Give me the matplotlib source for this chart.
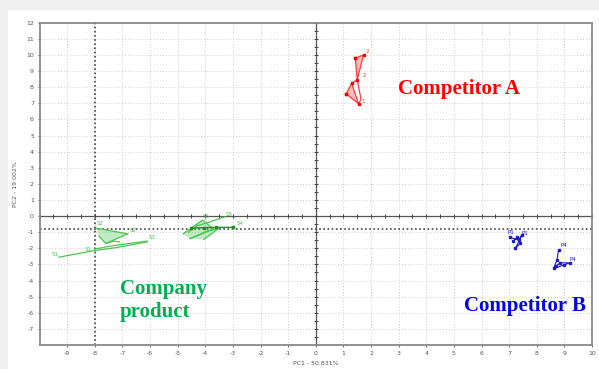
import matplotlib
matplotlib.use("Agg")
import matplotlib.pyplot as plt
from matplotlib.patches import Rectangle, Polygon
import numpy as np

plt.rcParams["axes.unicode_minus"] = False

# ---- score data (PC1, PC2) ----
# Company product, batch S1-S3
comp1_line_x = [-9.3, -8.05, -7.2, -6.1]
comp1_line_y = [-2.55, -2.15, -1.95, -1.6]
comp1_line2_x = [-8.0, -7.4, -6.1]
comp1_line2_y = [-2.05, -1.85, -1.55]
comp1_tri_x = [-7.95, -6.8, -7.6, -7.85]
comp1_tri_y = [-0.75, -1.1, -1.7, -1.25]
comp1_tail_x = [-7.6, -7.3, -7.1]
comp1_tail_y = [-1.7, -1.55, -1.6]

# Company product, batch S4-S5
comp2_poly_x = [-4.8, -4.1, -3.7, -4.55]
comp2_poly_y = [-1.1, -0.25, -0.8, -1.4]
comp2_line_x = [-4.6, -4.3, -3.9, -3.3]
comp2_line_y = [-1.0, -0.6, -0.4, -0.05]
comp2_mean_x = [-4.5, -4.05, -3.6, -3.0]
comp2_mean_y = [-0.75, -0.72, -0.7, -0.7]
comp2_low_x = [-4.55, -3.95, -3.5, -4.05]
comp2_low_y = [-1.4, -0.95, -0.75, -1.45]

# Competitor A
compa_low_x = [1.1, 1.55, 1.3, 1.1]
compa_low_y = [7.58, 6.97, 8.24, 7.58]
compa_high_x = [1.43, 1.73, 1.5, 1.43]
compa_high_y = [9.8, 10.0, 8.45, 9.8]
compa_link_x = [1.3, 1.5, 1.64, 1.55]
compa_link_y = [8.24, 8.45, 7.25, 6.97]

# Competitor B
compb1_x = [7.02, 7.34, 7.46, 7.23, 7.4, 7.3, 7.15]
compb1_y = [-1.32, -1.49, -1.18, -2.0, -1.7, -1.3, -1.55]
compb2_x = [8.79, 8.73, 8.61, 8.98, 9.2, 8.85, 8.7]
compb2_y = [-2.1, -2.73, -3.25, -3.04, -2.9, -2.9, -3.1]

x_ticks = list(range(-9, 11))
y_ticks = list(range(-7, 13))

green_line = "#4cc552"
green_text = "#00b050"
red_line = "#ff3b3b"
blue_line = "#1a1ad0"

fig = plt.figure(figsize=(5.99, 3.69), dpi=100)
fig.patch.set_facecolor("#efefef")
fig.patches.append(Rectangle((8 / 599, 0), 1, 1 - 10 / 369, transform=fig.transFigure,
                             facecolor="white", edgecolor="none", zorder=-10))

ax = fig.add_axes([39.5 / 599, 1 - 345 / 369, (592 - 39.5) / 599, (345 - 22.7) / 369])
ax.set_xlim(-10, 10)
ax.set_ylim(-8, 12)
ax.set_xticks(x_ticks)
ax.set_yticks(y_ticks)
ax.tick_params(labelsize=4.5, colors="#555555", length=1.5, width=0.6, pad=2.5)
for s in ax.spines.values():
    s.set_color("#888888")
    s.set_linewidth(1.3)
ax.grid(True, color="#cccccc", linestyle=(0, (1, 2)), linewidth=0.7)
ax.set_axisbelow(True)

# origin axes with half-unit tick dots
ax.axhline(0, color="#555555", lw=0.9, zorder=1)
ax.axvline(0, color="#555555", lw=0.9, zorder=1)
hx = np.arange(-10, 10.01, 0.5)
hy = np.arange(-8, 12.01, 0.5)
ax.plot(hx, np.zeros_like(hx), ls="none", marker="|", ms=2.5, color="#444444", mew=0.7)
ax.plot(np.zeros_like(hy), hy, ls="none", marker="_", ms=2.5, color="#444444", mew=0.7)

# reference lines
ax.axvline(-8, color="#444444", lw=1.2, ls=(0, (1, 1.5)), zorder=1)
ax.axhline(-0.8, color="#444444", lw=1.2, ls=(0, (1, 1.5)), zorder=1)

def group(xs, ys, color, fill=True):
    if fill:
        ax.add_patch(Polygon(np.column_stack([xs, ys]), closed=True,
                             facecolor=color, alpha=0.35, edgecolor="none", zorder=2))
    ax.plot(xs, ys, color=color, lw=0.9, zorder=3)

group(comp1_tri_x, comp1_tri_y, green_line)
group(comp1_line_x, comp1_line_y, green_line, fill=False)
group(comp1_line2_x, comp1_line2_y, green_line, fill=False)
group(comp1_tail_x, comp1_tail_y, green_line, fill=False)
group(comp2_poly_x, comp2_poly_y, green_line)
group(comp2_low_x, comp2_low_y, green_line)
group(comp2_line_x, comp2_line_y, green_line, fill=False)
ax.plot(comp2_mean_x, comp2_mean_y, color="#2a8a2a", lw=1.0, marker="s", ms=1.8, zorder=4)

group(compa_low_x, compa_low_y, red_line)
group(compa_high_x, compa_high_y, red_line)
group(compa_link_x, compa_link_y, red_line, fill=False)
ax.plot(compa_low_x + compa_high_x, compa_low_y + compa_high_y, ls="none",
        marker="s", ms=1.8, color="#ee0000", zorder=4)

ax.plot(compb1_x, compb1_y, color=blue_line, lw=0.8, marker="s", ms=1.5, zorder=3)
ax.plot(compb2_x, compb2_y, color=blue_line, lw=0.8, marker="s", ms=1.5, zorder=3)

# point labels
small = dict(fontsize=4, zorder=5)
for tx, ty, t in [(-9.55, -2.45, "S1"), (-7.95, -0.55, "S2"), (-6.75, -1.0, "S2"),
                  (-6.05, -1.45, "S3"), (-8.35, -2.15, "S1"), (-2.85, -0.55, "S4"),
                  (-3.25, 0.0, "S5"), (-4.1, -0.15, "S5")]:
    ax.text(tx, ty, t, color=green_line, **small)
for tx, ty, t in [(1.8, 10.1, "2"), (1.7, 8.6, "2"), (1.65, 7.0, "1")]:
    ax.text(tx, ty, t, color=red_line, **small)
for tx, ty, t in [(6.95, -1.1, "P1"), (7.45, -1.2, "P1"), (8.85, -1.9, "P4"), (9.2, -2.8, "P4")]:
    ax.text(tx, ty, t, color=blue_line, **small)

serif = ["Liberation Serif", "DejaVu Serif"]
big = dict(fontsize=15, fontweight="bold", family=serif, va="center", ha="left", zorder=6)
ax.text(2.99, 7.9, "Competitor A", color="#ff0000", **big)
ax.text(-7.08, -4.5, "Company", color=green_text, **big)
ax.text(-7.08, -5.95, "product", color=green_text, **big)
ax.text(5.38, -5.55, "Competitor B", color="#0000ee", **big)

ax.set_xlabel("PC1 - 50.831%", fontsize=4.5, color="#555555", labelpad=4)
ax.set_ylabel("PC2 - 19.002%", fontsize=4.5, color="#555555", labelpad=6)

fig.savefig("out.png", dpi=100, facecolor=fig.get_facecolor())
